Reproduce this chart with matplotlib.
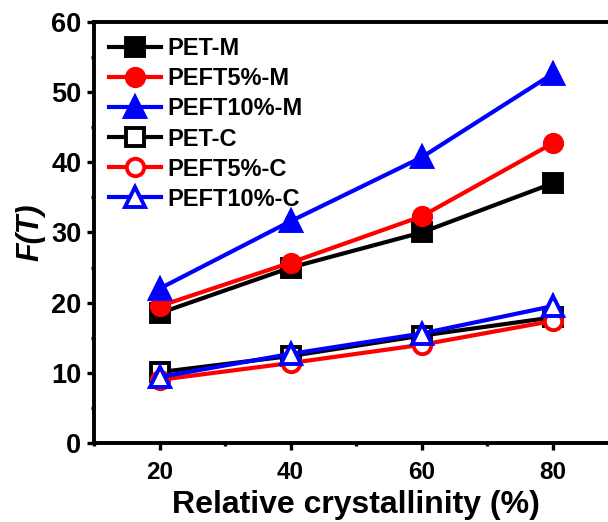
import matplotlib
matplotlib.use("Agg")
import matplotlib.pyplot as plt
from matplotlib.ticker import MultipleLocator

plt.rcParams["font.family"] = ["Liberation Sans", "DejaVu Sans"]
plt.rcParams["font.weight"] = "bold"

crystallinity = [20, 40, 60, 80]

pet_m = [18.5, 25.0, 30.0, 37.0]
peft5_m = [19.5, 25.7, 32.3, 42.7]
peft10_m = [22.0, 31.6, 40.7, 52.6]
pet_c = [10.1, 12.4, 15.3, 17.9]
peft5_c = [9.0, 11.4, 14.0, 17.4]
peft10_c = [9.4, 12.7, 15.6, 19.5]

series = [
    ("PET-M", pet_m, "black", "s", True),
    ("PEFT5%-M", peft5_m, "red", "o", True),
    ("PEFT10%-M", peft10_m, "blue", "^", True),
    ("PET-C", pet_c, "black", "s", False),
    ("PEFT5%-C", peft5_c, "red", "o", False),
    ("PEFT10%-C", peft10_c, "blue", "^", False),
]

fig = plt.figure(figsize=(6.08, 5.22), dpi=100)
ax = fig.add_axes([0.1546, 0.1513, 0.862, 0.8066])

for label, vals, color, marker, filled in series:
    ms = 14.5 if marker == "^" else 12.5
    ax.plot(crystallinity, vals, color=color, lw=3.0, marker=marker, ms=ms,
            mfc=color if filled else "white", mec=color, mew=2.8, label=label)

ax.set_xlim(10, 90)
ax.set_ylim(0, 60)
ax.xaxis.set_major_locator(MultipleLocator(20))
ax.xaxis.set_minor_locator(MultipleLocator(10))
ax.yaxis.set_major_locator(MultipleLocator(10))
ax.yaxis.set_minor_locator(MultipleLocator(5))
ax.tick_params(which="major", direction="out", length=5, width=2.4)
ax.tick_params(which="minor", direction="out", length=2, width=2.4)
ax.tick_params(axis="y", labelsize=19.5, pad=4)
ax.tick_params(axis="x", labelsize=17.5, pad=8)
for sp in ax.spines.values():
    sp.set_linewidth(2.8)
for t in ax.get_xticklabels() + ax.get_yticklabels():
    t.set_fontweight("bold")

ax.set_xlabel("Relative crystallinity (%)", fontsize=23, fontweight="bold")
ax.xaxis.set_label_coords(0.5, -0.112)
ax.set_ylabel("F(T)", fontsize=22, fontweight="bold", style="italic", labelpad=4)

ax.legend(loc="upper left", frameon=False, fontsize=17, handlelength=2.2,
          handletextpad=0.25, labelspacing=0.3, borderaxespad=0.25,
          bbox_to_anchor=(0.0, 1.0))
leg = ax.get_legend()
for t in leg.get_texts():
    t.set_fontweight("bold")

fig.savefig("out.png", dpi=100)
